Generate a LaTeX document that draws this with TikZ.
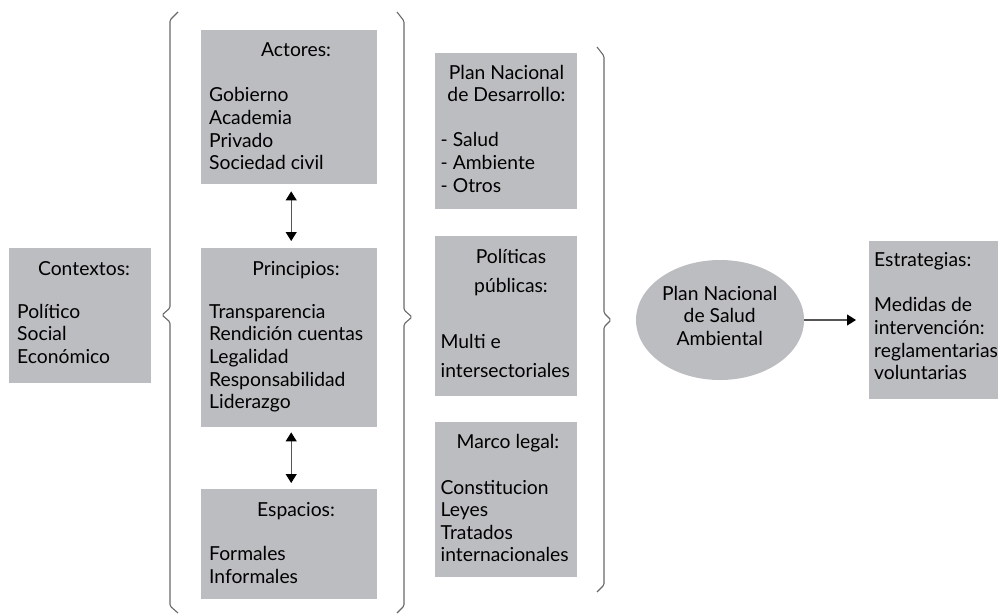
\documentclass[tikz,border=0pt]{standalone}
\usepackage{fontspec}
\setmainfont{Lato}
\usetikzlibrary{arrows.meta,shapes.geometric}
\definecolor{boxgray}{RGB}{188,189,192}
\definecolor{bracegray}{RGB}{105,105,105}
\definecolor{shaftgray}{RGB}{85,85,85}

% a column of left-aligned lines, one node per line
\newcommand\itemlines[5]{%
  \foreach \txt [count=\k] in {#5}
    \node[txt, anchor=base west] (#1-\k) at (#2,{#3+(\k-1)*#4}) {\txt};}
% a column of centred lines, one node per line
\newcommand\centerlines[5]{%
  \foreach \txt [count=\k] in {#5}
    \node[txt, anchor=base] (#1-\k) at (#2,{#3+(\k-1)*#4}) {\txt};}

\begin{document}
\begin{tikzpicture}[x=1pt,y=-1pt,
  panel/.style={fill=boxgray, draw=none, inner sep=0pt, anchor=north west},
  txt/.style={inner sep=0pt, text=black, font=\fontsize{19.3pt}{22pt}\selectfont},
  brace/.style={draw=bracegray, line width=1.1pt, rounded corners=1.5pt},
  link/.style={draw=shaftgray, line width=1.1pt,
    {Triangle[width=11pt,length=9pt,color=black]}-{Triangle[width=11pt,length=9pt,color=black]}},
  onelink/.style={draw=shaftgray, line width=1.1pt,
    -{Triangle[width=11pt,length=9pt,color=black]}}
]
\useasboundingbox (0,0) rectangle (998,615);

% ---- grey boxes ----
\node[panel, minimum width=142pt, minimum height=135pt] (ctx)  at (9,248)   {};
\node[panel, minimum width=176pt, minimum height=154pt] (act)  at (201,30)  {};
\node[panel, minimum width=176pt, minimum height=179pt] (prin) at (201,248) {};
\node[panel, minimum width=176pt, minimum height=110pt] (esp)  at (201,489) {};
\node[panel, minimum width=142pt, minimum height=156pt] (pnd)  at (435,53)  {};
\node[panel, minimum width=142pt, minimum height=160pt] (pol)  at (435,236) {};
\node[panel, minimum width=142pt, minimum height=155pt] (leg)  at (435,422) {};
\node[panel, minimum width=140pt, minimum height=158pt] (est)  at (869,241) {};
\node[ellipse, fill=boxgray, inner sep=0pt, minimum width=168pt, minimum height=120pt] (pnsa) at (720,320) {};

% ---- texts ----
\centerlines{ctxT}{84}{275}{22.7}{Contextos:}
\itemlines{ctxL}{17}{318}{22.7}{Político,Social,Económico}

\centerlines{actT}{296}{57}{22.7}{Actores:}
\itemlines{actL}{209}{101.7}{22.7}{Gobierno,Academia,Privado,Sociedad civil}

\centerlines{prinT}{296}{275}{22.7}{Principios:}
\itemlines{prinL}{209}{318}{22.7}{Transparencia,Rendición cuentas,Legalidad,Responsabilidad,Liderazgo}

\centerlines{espT}{296}{516.7}{22.7}{Espacios:}
\itemlines{espL}{209}{560.7}{22.7}{Formales,Informales}

\centerlines{pndT}{506.5}{80}{21.7}{Plan Nacional,de Desarrollo:}
\itemlines{pndL}{440.5}{146.7}{23}{- Salud,- Ambiente,- Otros}

\centerlines{polT}{511}{263.3}{29.5}{Políticas,públicas:}
\itemlines{polL}{440.5}{348.3}{29.4}{Multi e,intersectoriales}

\centerlines{legT}{508}{448.3}{22.7}{Marco legal:}
\itemlines{legL}{440.5}{494.3}{22.5}{Constitucion,Leyes,Tratados,internacionales}

\centerlines{pnsaT}{719.7}{300}{22.5}{Plan Nacional,de Salud,Ambiental}

\itemlines{estT}{874}{266.7}{22.7}{Estrategias:}
\itemlines{estL}{874}{311.7}{22.7}{Medidas de,intervención:,reglamentarias,voluntarias}

% ---- braces ----
\draw[brace] (178,12) -- (170,20) -- (170,308) -- (162,315) -- (170,322) -- (170,606) -- (178,613);
\draw[brace] (397,12) -- (404,21) -- (404,310) -- (412,317) -- (404,324) -- (404,606) -- (397,613);
\draw[brace] (597,47) -- (604,56) -- (604,313) -- (611,320) -- (604,327) -- (604,585) -- (597,592);

% ---- connectors ----
\draw[link, shorten <=7pt, shorten >=7pt] ([xshift=2pt]act.south) -- ([xshift=2pt]prin.north);
\draw[link, shorten <=5pt, shorten >=6pt] ([xshift=2pt]prin.south) -- ([xshift=2pt]esp.north);
\draw[onelink, shorten >=13pt] (pnsa.east) -- (est.west |- pnsa.east);
\end{tikzpicture}
\end{document}
